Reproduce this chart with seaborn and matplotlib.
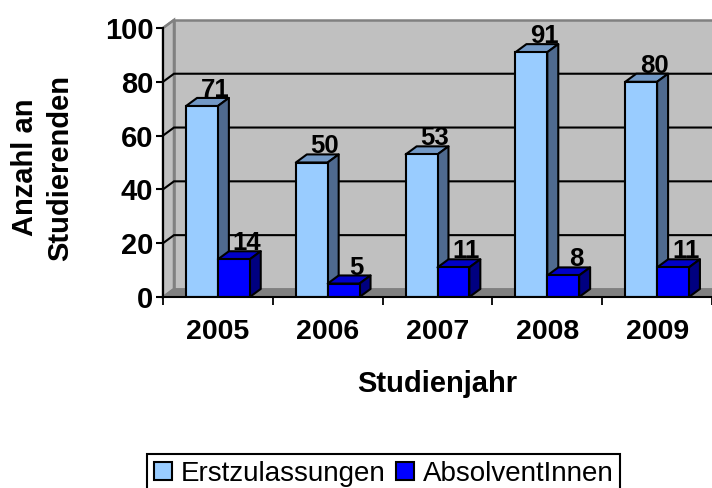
import pandas as pd
import numpy as np
import matplotlib
matplotlib.use("Agg")
import matplotlib.pyplot as plt
from matplotlib.patches import Polygon
import seaborn as sns

# Data
years = ["2005", "2006", "2007", "2008", "2009"]
erst = [71, 50, 53, 91, 80]
absolv = [14, 5, 11, 8, 11]
series_names = ["Erstzulassungen", "AbsolventInnen"]

front_cols = ["#99CCFF", "#0000FF"]
top_cols = ["#7399C6", "#0000C8"]
side_cols = ["#4F6A8F", "#000080"]

df = pd.DataFrame({
    "year": years * 2,
    "value": erst + absolv,
    "series": [series_names[0]] * 5 + [series_names[1]] * 5,
})

sns.set_theme(style="white")
plt.rcParams["font.family"] = ["Liberation Sans", "DejaVu Sans"]

fig = plt.figure(figsize=(7.12, 4.88), dpi=100)
ax = fig.add_axes([163 / 712, (488 - 297) / 488, 549 / 712, 269 / 488])

sns.barplot(data=df, x="year", y="value", hue="series", palette=front_cols,
            width=0.58, gap=0, edgecolor="black", linewidth=1.5, saturation=1,
            ax=ax)
ax.set_xlim(-0.5, 4.5)
ax.set_ylim(0, 100)

# depth of the fake 3D effect, in data units
dx = 0.1
dy = 3.0

# back wall, side wall, floor
x0, x1 = ax.get_xlim()
wall = dict(clip_on=False, joinstyle="miter")
ax.add_patch(Polygon([(x0 + dx, dy), (x1 + dx, dy), (x1 + dx, 100 + dy), (x0 + dx, 100 + dy)],
                     facecolor="#C0C0C0", edgecolor="#808080", lw=1.8, zorder=0.5, **wall))
ax.add_patch(Polygon([(x0, 0), (x0 + dx, dy), (x0 + dx, 100 + dy), (x0, 100)],
                     facecolor="#C0C0C0", edgecolor="#808080", lw=1.8, zorder=0.5, **wall))
ax.add_patch(Polygon([(x0, 0), (x0 + dx, dy), (x1 + dx, dy), (x1, 0)],
                     facecolor="#808080", edgecolor="#808080", lw=1, zorder=0.6, **wall))

# gridlines on the wall
for t in [20, 40, 60, 80]:
    ax.plot([x0, x0 + dx, x1 + dx], [t, t + dy, t + dy], color="black", lw=1.5,
            zorder=0.8, clip_on=False, solid_joinstyle="miter")
ax.plot([x0, x0 + dx], [100, 100 + dy], color="#808080", lw=1.5, zorder=0.8, clip_on=False)

# 3D sides and value labels
for s, cont in enumerate(ax.containers):
    for i, bar in enumerate(cont):
        z = 3 + i + s * 0.5
        bar.set_zorder(z + 0.1)
        bx, bw, h = bar.get_x(), bar.get_width(), bar.get_height()
        ax.add_patch(Polygon([(bx, h), (bx + dx, h + dy), (bx + bw + dx, h + dy), (bx + bw, h)],
                             facecolor=top_cols[s], edgecolor="black", lw=1.5, zorder=z,
                             joinstyle="round", clip_on=False))
        ax.add_patch(Polygon([(bx + bw, 0), (bx + bw + dx, dy), (bx + bw + dx, h + dy), (bx + bw, h)],
                             facecolor=side_cols[s], edgecolor="black", lw=1.5, zorder=z,
                             joinstyle="round", clip_on=False))
        ax.annotate(str(int(h)), (bx + bw / 2, h), xytext=(9.2, 6.5), textcoords="offset points",
                    ha="center", va="baseline", fontsize=18.5, fontweight="bold",
                    color="black", zorder=20, annotation_clip=False)

# axes
sns.despine(ax=ax, top=True, right=True)
for sp in ["left", "bottom"]:
    ax.spines[sp].set_color("black")
    ax.spines[sp].set_linewidth(1.5)
    ax.spines[sp].set_zorder(30)

ax.set_yticks([0, 20, 40, 60, 80, 100])
ax.set_xticks(np.arange(-0.5, 5), minor=True)
ax.tick_params(axis="y", left=True, length=5, width=1.5, color="black", pad=2, labelsize=21,
               labelcolor="black")
ax.tick_params(axis="x", which="major", bottom=False, length=0, pad=15.5, labelsize=20.5,
               labelcolor="black")
ax.tick_params(axis="x", which="minor", bottom=True, length=5.5, width=1.3, color="black")
for lab in ax.get_xticklabels() + ax.get_yticklabels():
    lab.set_fontweight("bold")

ax.set_xlabel("Studienjahr", fontsize=21, fontweight="bold", color="black", va="center")
ax.xaxis.set_label_coords(0.499, -0.323)
ax.set_ylabel("Anzahl an\nStudierenden", fontsize=21, fontweight="bold", color="black",
              va="center", ha="center", linespacing=1.33)
ax.yaxis.set_label_coords(-0.22, 0.481)

sns.move_legend(ax, "upper left", bbox_to_anchor=(147 / 712, 1 - 454 / 488),
                bbox_transform=fig.transFigure, ncol=2, title=None, frameon=True,
                fontsize=20, borderaxespad=0, handlelength=0.65, handleheight=0.65,
                handletextpad=0.3, columnspacing=0.4, borderpad=0.25, fancybox=False,
                edgecolor="black", framealpha=1, labelcolor="black")
ax.get_legend().get_frame().set_linewidth(1.5)
ax.get_legend().set_zorder(40)

fig.savefig("out.png", dpi=100)
